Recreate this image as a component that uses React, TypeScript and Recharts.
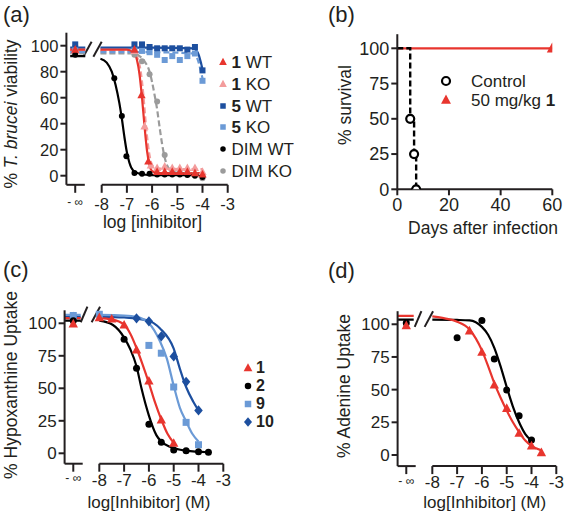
import React from "react";
import {
  ComposedChart,
  Line,
  ReferenceLine,
  Scatter,
  XAxis,
  YAxis,
} from "recharts";

const FONT = '"Liberation Sans", Arial, Helvetica, sans-serif';
const INK = "#231f20";
const RED = "#e8352e";
const PINK = "#f39c9c";
const NAVY = "#1d4f9f";
const SKY = "#6b9ad6";
const GREY = "#9b9b9b";

// position used for the "- ∞" (no inhibitor) column on the broken axes
const NEG_INF = -9.05;
const LOG_TICKS = [NEG_INF, -8, -7, -6, -5, -4, -3];

// ---------- (a) T. brucei viability ----------
const a1wtX = [NEG_INF, -6.7, -6.42, -6.15, -5.8, -5.5, -5.2, -4.9, -4.6, -4.3, -4.0];
const a1wtY = [97, 97, 62, 11, 3, 3, 3, 3, 3, 2, 1];
const a1koX = [NEG_INF, -6.7, -6.3, -6.05, -5.8, -5.5, -5.2, -4.9, -4.6, -4.3, -4.0];
const a1koY = [96, 96, 38, 8, 6, 7, 6, 6, 6, 6, 3];
const a5X = [NEG_INF, -6.7, -6.4, -6.1, -5.8, -5.5, -5.2, -4.9, -4.6, -4.3, -4.0];
const a5wtY = [101, 101, 101, 99, 98, 98, 98, 98, 97, 99, 81];
const a5koY = [98, 97, 96, 95, 93, 89, 92, 89, 92, 94, 73];
const aDimKoX = [NEG_INF, -6.7, -6.4, -6.1, -5.8, -5.5, -5.2, -4.9, -4.6, -4.3, -4.0];
const aDimKoY = [95, 93, 88, 78, 57, 16, 3, 2, 2, 1, -2];
const aDimWtX = [NEG_INF, -7.5, -7.2, -7.02, -6.7, -6.4, -6.1, -5.8, -5.5, -5.2, -4.9, -4.6, -4.3, -4.0];
const aDimWtY = [93, 75, 46, 15, 2, 1.5, 1.5, 1, 1, 1, 1, 0.5, 0, -1];

// fitted curves (null = axis break)
const a1wtCurveX = [-9.25, -8.65, -8.35, -8.05, -7, -6.75, -6.6, -6.5, -6.4, -6.3, -6.2, -6.1, -6.0, -5.8, -4.0];
const a1wtCurveY = [97, 97, null, 97, 97, 95, 89, 78, 60, 38, 19, 8, 3.5, 2, 2];
const a1koCurveX = [-9.25, -8.65, -8.35, -8.05, -7, -6.7, -6.55, -6.45, -6.35, -6.25, -6.15, -6.05, -5.95, -5.8, -4.0];
const a1koCurveY = [96, 96, null, 96, 96, 94, 89, 80, 63, 40, 22, 11, 7, 5.5, 5];
const a5CurveX = [-9.25, -8.65, -8.35, -8.05, -6, -4.35, -4.25, -4.15, -4.05, -4.0];
const a5wtCurveY = [98.5, 98.5, null, 98.5, 98.5, 98, 96.5, 93, 86, 82];
const a5koCurveY = [95, 95, null, 95, 95, 94, 92, 87, 79, 75];
const aDimWtCurveX = [-9.25, -8.65, -8.35, -8.05, -7.8, -7.6, -7.45, -7.3, -7.2, -7.1, -7.0, -6.9, -6.75, -6.5, -6.0, -4.0];
const aDimWtCurveY = [92, 92, null, 90, 87, 80, 70, 56, 44, 30, 18, 10, 4, 1.5, 0.5, 0.5];
const aDimKoCurveX = [-9.25, -8.65, -8.35, -8.05, -6.8, -6.5, -6.3, -6.1, -6.0, -5.9, -5.8, -5.7, -5.6, -5.5, -5.35, -5.1, -4.0];
const aDimKoCurveY = [94, 94, null, 94, 94, 92, 88, 80, 72, 62, 51, 37, 24, 14, 6, 2.5, 1];
const aBreaks = [
  [-8.73, 91.5, -8.4, 103],
  [-8.33, 91.5, -8.0, 103],
];

// ---------- (b) survival ----------
const bCtrlDays = [0, 5, 6.5, 7.3];
const bCtrlSurv = [100, 50, 25, 0];
const bTreatDays = [0, 60];
const bTreatSurv = [100, 100];

// ---------- (c) hypoxanthine uptake ----------
const c1X = [NEG_INF, -8, -7.5, -7, -6.5, -6, -5.5, -5];
const c1Y = [99.5, 104.3, 103.3, 98.7, 79.5, 55.6, 25.6, 7.7];
const c2X = [NEG_INF, -7, -6.5, -6, -5.5, -5, -4.5, -4, -3.6];
const c2Y = [102, 87.7, 65.4, 22.3, 8.5, 2.5, 2, 1.2, 0.8];
const c9X = [NEG_INF, -8, -6, -5.5, -5, -4.5, -4];
const c9Y = [106, 107, 83, 77, 51, 23.8, 6.6];
const c10X = [NEG_INF, -6.5, -6, -5.5, -5, -4.5, -4];
const c10Y = [105, 103.8, 101.5, 90, 74.5, 55, 33];

const c1CurveX = [-9.4, -8.75, -8.4, -8.0, -7.5, -7.0, -6.75, -6.5, -6.25, -6.0, -5.75, -5.5, -5.25, -5.0];
const c1CurveY = [104, 104, null, 104, 103, 99, 92, 81, 68, 54, 39, 26, 15, 8];
const c2CurveX = [-9.4, -8.75, -8.4, -8.0, -7.45, -7.0, -6.75, -6.5, -6.3, -6.0, -5.7, -5.5, -5.15, -4.5, -3.6];
const c2CurveY = [102, 102, null, 102, 98.7, 89, 80, 67, 50, 29, 14, 9, 5, 2, 0.8];
const c9CurveX = [-9.4, -8.75, -8.4, -8.0, -7.0, -6.5, -6.0, -5.55, -5.28, -5.0, -4.75, -4.5, -4.25, -4.0];
const c9CurveY = [106.5, 106.5, null, 106.5, 106, 105, 100, 86, 73, 52, 35, 24.6, 15, 9];
const c10CurveX = [-9.4, -8.75, -8.4, -8.0, -7.0, -6.5, -6.0, -5.55, -5.0, -4.75, -4.5, -4.21, -4.0];
const c10CurveY = [105, 105, null, 105, 104.5, 103.5, 102, 96, 80.5, 65, 51, 39.7, 33];
const cBreaks = [
  [-8.75, 100.8, -8.48, 112.8],
  [-8.31, 100.8, -7.97, 112.8],
];

// ---------- (d) adenine uptake ----------
const d1X = [NEG_INF, -6.5, -6, -5.5, -5, -4.5, -4, -3.6];
const d1Y = [99, 95, 78.6, 53.6, 35.7, 16.6, 6.9, 1.8];
const d2X = [NEG_INF, -7, -6, -5.5, -5, -4.5, -4];
const d2Y = [101, 89.7, 102.8, 73.5, 49.7, 30, 11.5];

const d1CurveX = [-9.4, -8.75, -8.4, -8.0, -7.5, -7.0, -6.5, -6.0, -5.75, -5.5, -5.25, -5.0, -4.75, -4.5, -4.25, -4.0, -3.6];
const d1CurveY = [106.5, 106.5, null, 106, 104.5, 102, 96, 80, 68, 55, 44, 34, 25, 17.5, 11, 7, 3.5];
const d2CurveX = [-9.4, -8.75, -8.4, -8.0, -7.0, -6.5, -6.0, -5.75, -5.5, -5.25, -5.0, -4.75, -4.5, -4.25, -4.0];
const d2CurveY = [103.5, 103.5, null, 103.5, 103.3, 103, 98, 92, 82, 68, 52, 37, 25, 16, 11];
const dBreaks = [
  [-8.71, 98, -8.44, 110],
  [-8.31, 98, -7.97, 110],
];

type Kind = "tri" | "sq" | "dot" | "dia" | "ring";
type Pt = { x: number; y: number | null };

const zip = (xs: number[], ys: (number | null)[]): Pt[] =>
  xs.map((x, i) => ({ x, y: ys[i] }));

function glyph(kind: Kind, color: string, s: number, cx: number, cy: number) {
  switch (kind) {
    case "tri":
      return (
        <polygon
          points={`${cx},${cy - s * 0.6} ${cx + s * 0.55},${cy + s * 0.42} ${cx - s * 0.55},${cy + s * 0.42}`}
          fill={color}
        />
      );
    case "sq":
      return <rect x={cx - s / 2} y={cy - s / 2} width={s} height={s} fill={color} />;
    case "dia":
      return (
        <polygon
          points={`${cx},${cy - s * 0.6} ${cx + s * 0.5},${cy} ${cx},${cy + s * 0.6} ${cx - s * 0.5},${cy}`}
          fill={color}
        />
      );
    case "ring":
      return <circle cx={cx} cy={cy} r={s / 2} fill="#fff" stroke={color} strokeWidth={2.2} />;
    default:
      return <circle cx={cx} cy={cy} r={s / 2} fill={color} />;
  }
}

const mark = (kind: Kind, color: string, s: number) => (p: any) => {
  if (p.cx == null || p.cy == null) return <g />;
  return glyph(kind, color, s, p.cx, p.cy);
};

type Series = {
  name: string;
  color: string;
  dash?: string;
  kind: Kind;
  size: number;
  curve: Pt[];
  points: Pt[];
};

type DoseProps = {
  left: number;
  top: number;
  margin: { top: number; right: number; bottom: number; left: number };
  xMin: number;
  yDomain: [number, number];
  yTicks: number[];
  series: Series[];
  breaks: number[][];
  fontSize: number;
  tickGap: number;
};

function DoseChart({ left, top, margin, xMin, yDomain, yTicks, series, breaks, fontSize, tickGap }: DoseProps) {
  const lo = yDomain[0];
  const axis = { stroke: INK, strokeWidth: 2 };
  const xTick = (p: any) => {
    const inf = p.payload.value < -8.5;
    return (
      <text
        x={p.x}
        y={p.y}
        dy="0.71em"
        textAnchor="middle"
        fontSize={inf ? fontSize * 0.72 : fontSize}
        fill={INK}
        fontFamily={FONT}
      >
        {inf ? "- ∞" : p.payload.value}
      </text>
    );
  };
  return (
    <div style={{ position: "absolute", left, top }}>
      <ComposedChart width={283} height={258} margin={margin}>
        <XAxis
          type="number"
          dataKey="x"
          domain={[xMin, -3]}
          ticks={LOG_TICKS}
          interval={0}
          allowDataOverflow
          axisLine={false}
          tickLine={axis}
          tickSize={8}
          tickMargin={tickGap}
          height={30}
          tick={xTick}
        />
        <YAxis
          type="number"
          dataKey="y"
          domain={yDomain}
          ticks={yTicks}
          interval={0}
          allowDataOverflow
          axisLine={axis}
          tickLine={axis}
          tickSize={6}
          tickMargin={2}
          width={50}
          tick={{ fill: INK, fontSize, fontFamily: FONT }}
        />
        <ReferenceLine
          segment={[{ x: xMin, y: lo }, { x: -8.67, y: lo }]}
          {...axis}
          ifOverflow="visible"
        />
        <ReferenceLine
          segment={[{ x: -8, y: lo }, { x: -3, y: lo }]}
          {...axis}
          ifOverflow="visible"
        />
        {breaks.map((b, i) => (
          <ReferenceLine
            key={`br${i}`}
            segment={[{ x: b[0], y: b[1] }, { x: b[2], y: b[3] }]}
            stroke={INK}
            strokeWidth={2}
            ifOverflow="visible"
          />
        ))}
        {series.map((s) => (
          <Line
            key={`l-${s.name}`}
            data={s.curve}
            dataKey="y"
            type="monotone"
            stroke={s.color}
            strokeWidth={2.2}
            strokeDasharray={s.dash}
            dot={false}
            activeDot={false}
            isAnimationActive={false}
          />
        ))}
        {series.map((s) => (
          <Scatter
            key={`p-${s.name}`}
            data={s.points}
            shape={mark(s.kind, s.color, s.size)}
            isAnimationActive={false}
          />
        ))}
      </ComposedChart>
    </div>
  );
}

function Txt({
  x,
  y,
  size,
  rotate,
  children,
}: {
  x: number;
  y: number;
  size: number;
  rotate?: boolean;
  children: React.ReactNode;
}) {
  return (
    <div
      style={{
        position: "absolute",
        left: x,
        top: y,
        fontSize: size,
        lineHeight: 1,
        whiteSpace: "nowrap",
        transform: `translate(-50%, -50%)${rotate ? " rotate(-90deg)" : ""}`,
      }}
    >
      {children}
    </div>
  );
}

function LegendRow({
  x,
  y,
  kind,
  color,
  size,
  textX,
  fontSize,
  bold,
  rest,
  tail,
}: {
  x: number;
  y: number;
  kind: Kind;
  color: string;
  size: number;
  textX: number;
  fontSize: number;
  bold?: string;
  rest?: string;
  tail?: string;
}) {
  return (
    <>
      <svg
        width={16}
        height={16}
        style={{ position: "absolute", left: x - 8, top: y - 8 }}
      >
        {glyph(kind, color, size, 8, 8)}
      </svg>
      <div
        style={{
          position: "absolute",
          left: textX,
          top: y,
          transform: "translateY(-50%)",
          fontSize,
          lineHeight: 1,
          whiteSpace: "nowrap",
        }}
      >
        {bold && <b>{bold}</b>}
        {rest}
        {tail && <b>{tail}</b>}
      </div>
    </>
  );
}

const aLegend = [
  { kind: "tri" as Kind, color: RED, bold: "1", rest: " WT" },
  { kind: "tri" as Kind, color: PINK, bold: "1", rest: " KO" },
  { kind: "sq" as Kind, color: NAVY, bold: "5", rest: " WT" },
  { kind: "sq" as Kind, color: SKY, bold: "5", rest: " KO" },
  { kind: "dot" as Kind, color: "#000", bold: "", rest: "DIM WT" },
  { kind: "dot" as Kind, color: GREY, bold: "", rest: "DIM KO" },
];
const cLegend = [
  { kind: "tri" as Kind, color: RED, bold: "1" },
  { kind: "dot" as Kind, color: "#000", bold: "2" },
  { kind: "sq" as Kind, color: SKY, bold: "9" },
  { kind: "dia" as Kind, color: NAVY, bold: "10" },
];

export default function App() {
  const aSeries: Series[] = [
    { name: "dimko", color: GREY, dash: "6 3", kind: "dot", size: 6, curve: zip(aDimKoCurveX, aDimKoCurveY), points: zip(aDimKoX, aDimKoY) },
    { name: "1ko", color: PINK, dash: "6 3", kind: "tri", size: 7.5, curve: zip(a1koCurveX, a1koCurveY), points: zip(a1koX, a1koY) },
    { name: "5ko", color: SKY, dash: "6 3", kind: "sq", size: 6, curve: zip(a5CurveX, a5koCurveY), points: zip(a5X, a5koY) },
    { name: "5wt", color: NAVY, kind: "sq", size: 6, curve: zip(a5CurveX, a5wtCurveY), points: zip(a5X, a5wtY) },
    { name: "dimwt", color: "#000", kind: "dot", size: 6, curve: zip(aDimWtCurveX, aDimWtCurveY), points: zip(aDimWtX, aDimWtY) },
    { name: "1wt", color: RED, kind: "tri", size: 7.5, curve: zip(a1wtCurveX, a1wtCurveY), points: zip(a1wtX, a1wtY) },
  ];
  const cSeries: Series[] = [
    { name: "10", color: NAVY, kind: "dia", size: 8.5, curve: zip(c10CurveX, c10CurveY), points: zip(c10X, c10Y) },
    { name: "9", color: SKY, kind: "sq", size: 7, curve: zip(c9CurveX, c9CurveY), points: zip(c9X, c9Y) },
    { name: "2", color: "#000", kind: "dot", size: 7, curve: zip(c2CurveX, c2CurveY), points: zip(c2X, c2Y) },
    { name: "1", color: RED, kind: "tri", size: 8.5, curve: zip(c1CurveX, c1CurveY), points: zip(c1X, c1Y) },
  ];
  const dSeries: Series[] = [
    { name: "2", color: "#000", kind: "dot", size: 7, curve: zip(d2CurveX, d2CurveY), points: zip(d2X, d2Y) },
    { name: "1", color: RED, kind: "tri", size: 8.5, curve: zip(d1CurveX, d1CurveY), points: zip(d1X, d1Y) },
  ];

  const ctrl = zip(bCtrlDays, bCtrlSurv);
  const treated = zip(bTreatDays, bTreatSurv);
  const axis = { stroke: INK, strokeWidth: 2 };

  return (
    <div
      style={{
        position: "absolute",
        left: 0,
        top: 0,
        width: 566,
        height: 516,
        background: "#fff",
        fontFamily: FONT,
        color: INK,
        overflow: "hidden",
      }}
    >
      {/* (a) */}
      <DoseChart
        left={0}
        top={0}
        margin={{ top: 32.7, right: 55.3, bottom: 43.2, left: 16.4 }}
        xMin={-9.4}
        yDomain={[-7, 110]}
        yTicks={[0, 20, 40, 60, 80, 100]}
        series={aSeries}
        breaks={aBreaks}
        fontSize={16.5}
        tickGap={5}
      />
      {/* (b) */}
      <div style={{ position: "absolute", left: 283, top: 0 }}>
        <ComposedChart
          width={283}
          height={258}
          margin={{ top: 34.2, right: 13.7, bottom: 38.7, left: 64.3 }}
        >
          <XAxis
            type="number"
            dataKey="x"
            domain={[0, 60]}
            ticks={[0, 20, 40, 60]}
            interval={0}
            allowDataOverflow
            axisLine={axis}
            tickLine={axis}
            tickSize={6}
            tickMargin={3}
            height={30}
            tick={{ fill: INK, fontSize: 18, fontFamily: FONT }}
          />
          <YAxis
            type="number"
            dataKey="y"
            domain={[0, 110]}
            ticks={[0, 25, 50, 75, 100]}
            interval={0}
            allowDataOverflow
            axisLine={axis}
            tickLine={axis}
            tickSize={6}
            tickMargin={2}
            width={50}
            tick={{ fill: INK, fontSize: 18, fontFamily: FONT }}
          />
          <Line
            data={treated}
            dataKey="y"
            type="linear"
            stroke={RED}
            strokeWidth={2.2}
            dot={false}
            activeDot={false}
            isAnimationActive={false}
          />
          <Line
            data={ctrl}
            dataKey="y"
            type="stepAfter"
            stroke="#000"
            strokeWidth={2.4}
            strokeDasharray="6 3"
            dot={false}
            activeDot={false}
            isAnimationActive={false}
          />
          <Scatter
            data={ctrl.slice(1)}
            shape={mark("ring", "#000", 8)}
            isAnimationActive={false}
          />
          <Scatter
            data={treated.slice(1)}
            shape={mark("tri", RED, 10)}
            isAnimationActive={false}
          />
        </ComposedChart>
      </div>
      {/* (c) */}
      <DoseChart
        left={0}
        top={258}
        margin={{ top: 52.3, right: 59.7, bottom: 22.3, left: 14.6 }}
        xMin={-9.4}
        yDomain={[-8, 110]}
        yTicks={[0, 25, 50, 75, 100]}
        series={cSeries}
        breaks={cBreaks}
        fontSize={17}
        tickGap={2}
      />
      {/* (d) */}
      <DoseChart
        left={283}
        top={258}
        margin={{ top: 53.2, right: 9.7, bottom: 19.9, left: 64.6 }}
        xMin={-9.4}
        yDomain={[-8.5, 110]}
        yTicks={[0, 25, 50, 75, 100]}
        series={dSeries}
        breaks={dBreaks}
        fontSize={17}
        tickGap={2}
      />

      {/* panel letters */}
      <div style={{ position: "absolute", left: 3, top: 15, transform: "translateY(-50%)", fontSize: 22, lineHeight: 1 }}>(a)</div>
      <div style={{ position: "absolute", left: 328, top: 15, transform: "translateY(-50%)", fontSize: 22, lineHeight: 1 }}>(b)</div>
      <div style={{ position: "absolute", left: 3, top: 270, transform: "translateY(-50%)", fontSize: 22, lineHeight: 1 }}>(c)</div>
      <div style={{ position: "absolute", left: 328, top: 271, transform: "translateY(-50%)", fontSize: 22, lineHeight: 1 }}>(d)</div>

      {/* axis titles */}
      <Txt x={12} y={114} size={17.5} rotate>
        % <i>T. brucei</i> viability
      </Txt>
      <Txt x={152.5} y={223} size={17.5}>log [inhibitor]</Txt>
      <Txt x={346.3} y={105} size={17.5} rotate>% survival</Txt>
      <Txt x={483} y={229} size={17.5}>Days after infection</Txt>
      <Txt x={12} y={385} size={17.5} rotate>% Hypoxanthine Uptake</Txt>
      <Txt x={149} y={502} size={17}>log[Inhibitor] (M)</Txt>
      <Txt x={344.7} y={386} size={17.5} rotate>% Adenine Uptake</Txt>
      <Txt x={484.7} y={502} size={17}>log[Inhibitor] (M)</Txt>

      {/* legends */}
      {aLegend.map((l, i) => (
        <LegendRow
          key={l.rest + l.bold}
          x={223}
          y={61.7 + i * 21.9}
          kind={l.kind}
          color={l.color}
          size={l.kind === "tri" ? 7 : 5.5}
          textX={231.5}
          fontSize={17}
          bold={l.bold}
          rest={l.rest}
        />
      ))}
      <LegendRow x={446.3} y={81} kind="ring" color="#000" size={8} textX={471} fontSize={17} rest="Control" />
      <LegendRow x={446.3} y={100} kind="tri" color={RED} size={9} textX={471} fontSize={17} rest="50 mg/kg " tail="1" />
      {cLegend.map((l, i) => (
        <LegendRow
          key={l.bold}
          x={248.3}
          y={368 + i * 18}
          kind={l.kind}
          color={l.color}
          size={l.kind === "tri" || l.kind === "dia" ? 8 : 6.5}
          textX={256}
          fontSize={16}
          bold={l.bold}
        />
      ))}
    </div>
  );
}
